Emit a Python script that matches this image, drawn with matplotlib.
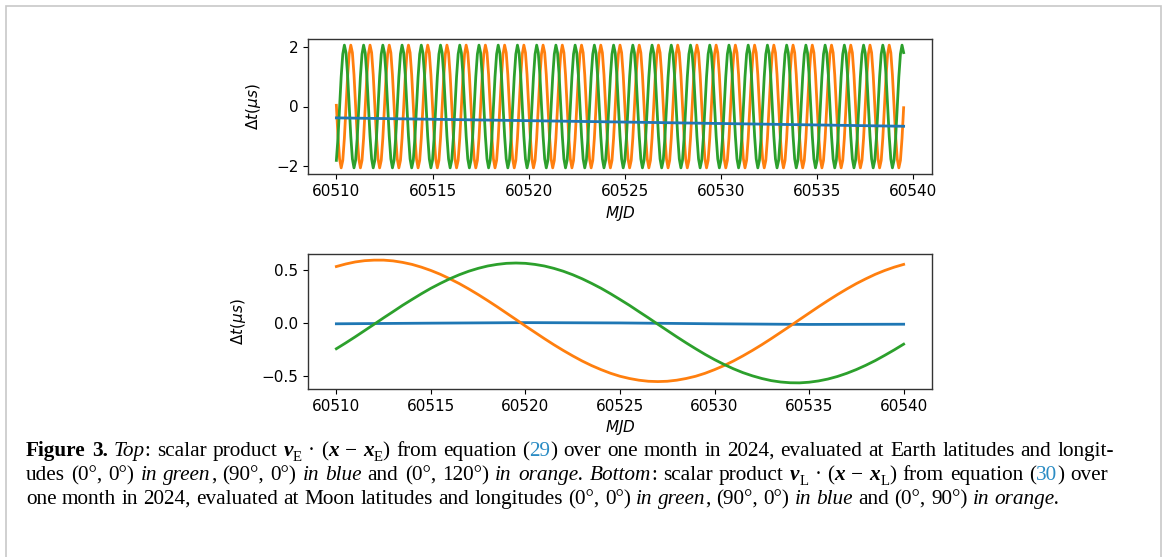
import numpy as np
import matplotlib
matplotlib.use('Agg')
import matplotlib.pyplot as plt

# ---- top panel: Earth stations, the signal repeats every day (samples every 2 h)
top_day_frac = [0, 1/12, 2/12, 3/12, 4/12, 5/12, 6/12, 7/12, 8/12, 9/12, 10/12, 11/12]
green_top_day = [-1.80, -1.06, -0.04, 0.99, 1.75, 2.05, 1.80, 1.06, 0.04, -0.99, -1.75, -2.05]
orange_top_day = [0.04, -0.99, -1.75, -2.05, -1.80, -1.06, -0.04, 0.99, 1.75, 2.05, 1.80, 1.06]
top_first_day = 60510
top_n_days = 30
top_last_mjd = 60539.5
blue_top_mjd = [60510, 60525, 60539.5]
blue_top = [-0.38, -0.52, -0.66]

# ---- bottom panel: Moon stations, one value every half day (60510 ... 60540)
bottom_first_mjd = 60510
bottom_step = 0.5
green_bottom = [-0.242, -0.187, -0.130, -0.071, -0.012, 0.048, 0.106, 0.165, 0.220, 0.274,
                0.325, 0.371, 0.414, 0.452, 0.485, 0.512, 0.534, 0.549, 0.559, 0.562,
                0.559, 0.549, 0.534, 0.512, 0.485, 0.452, 0.414, 0.371, 0.325, 0.274,
                0.220, 0.165, 0.106, 0.048, -0.012, -0.071, -0.130, -0.187, -0.242, -0.295,
                -0.344, -0.389, -0.430, -0.466, -0.496, -0.521, -0.541, -0.554, -0.561, -0.562,
                -0.556, -0.544, -0.526, -0.502, -0.472, -0.437, -0.397, -0.353, -0.304, -0.253,
                -0.199]
orange_bottom = [0.529, 0.553, 0.572, 0.584, 0.589, 0.589, 0.582, 0.568, 0.549, 0.523,
                 0.492, 0.456, 0.414, 0.369, 0.319, 0.266, 0.210, 0.152, 0.092, 0.032,
                 -0.029, -0.088, -0.147, -0.204, -0.258, -0.309, -0.357, -0.400, -0.438, -0.472,
                 -0.500, -0.521, -0.537, -0.547, -0.550, -0.547, -0.537, -0.521, -0.500, -0.472,
                 -0.438, -0.400, -0.357, -0.309, -0.258, -0.204, -0.147, -0.088, -0.029, 0.032,
                 0.092, 0.152, 0.210, 0.266, 0.319, 0.369, 0.414, 0.456, 0.492, 0.523,
                 0.549]
blue_bottom_mjd = [60510, 60515, 60520, 60525, 60530, 60535, 60540]
blue_bottom = [-0.008, -0.002, 0.003, 0.0, -0.008, -0.014, -0.012]

xticks = [60510, 60515, 60520, 60525, 60530, 60535, 60540]

C_BLUE, C_ORANGE, C_GREEN = '#1f77b4', '#ff7f0e', '#2ca02c'

top_mjd = (top_first_day + np.arange(top_n_days)[:, None] + np.array(top_day_frac)).ravel()
keep = top_mjd <= top_last_mjd
green_top = np.tile(green_top_day, top_n_days)[keep]
orange_top = np.tile(orange_top_day, top_n_days)[keep]
top_mjd = top_mjd[keep]

bottom_mjd = bottom_first_mjd + bottom_step * np.arange(len(green_bottom))

W, H = 1165, 557
fig = plt.figure(figsize=(W / 100, H / 100), dpi=100)
plt.rcParams['font.size'] = 11

ax1 = fig.add_axes([308 / W, 1 - 174 / H, 624 / W, 135 / H])
ax1.plot(top_mjd, orange_top, color=C_ORANGE, lw=2)
ax1.plot(top_mjd, green_top, color=C_GREEN, lw=2)
ax1.plot(blue_top_mjd, blue_top, color=C_BLUE, lw=2)
ax1.set_yticks([-2, 0, 2])
ax1.set_xticks(xticks)
ax1.set_ylabel(r'$\Delta t(\mu s)$', fontsize=11, labelpad=9)
ax1.set_xlabel(r'$MJD$', fontsize=11)

ax2 = fig.add_axes([308 / W, 1 - 389 / H, 624 / W, 135 / H])
ax2.plot(blue_bottom_mjd, blue_bottom, color=C_BLUE, lw=2)
ax2.plot(bottom_mjd, orange_bottom, color=C_ORANGE, lw=2)
ax2.plot(bottom_mjd, green_bottom, color=C_GREEN, lw=2)
ax2.set_yticks([-0.5, 0.0, 0.5])
ax2.set_xticks(xticks)
ax2.set_ylabel(r'$\Delta t(\mu s)$', fontsize=11, labelpad=10)
ax2.set_xlabel(r'$MJD$', fontsize=11, labelpad=3)

for ax in (ax1, ax2):
    ax.tick_params(labelsize=11)
    for sp in ax.spines.values():
        sp.set_color('#333333')
        sp.set_linewidth(1.0)

# light grey frame of the figure box (bottom edge is cut off)
fig.add_artist(plt.Rectangle((6 / W, -0.05), 1155 / W, 1.05 - 6 / H, transform=fig.transFigure,
                             fill=False, ec='#c8c8c8', lw=1.2))

# ---- caption, built word by word so bold/italic/colour can be mixed
CAP_FS = 15.3
CAP_LEFT = 26
styles = {
    'r': dict(family='Liberation Serif', fontsize=CAP_FS),
    'i': dict(family='Liberation Serif', fontsize=CAP_FS, style='italic'),
    'b': dict(family='Liberation Serif', fontsize=CAP_FS, weight='bold'),
    'bi': dict(family='Liberation Serif', fontsize=CAP_FS, weight='bold', style='italic'),
    'c': dict(family='Liberation Serif', fontsize=CAP_FS, color='#2b8cc4'),
    'sub': dict(family='Liberation Serif', fontsize=CAP_FS * 0.7),
}
renderer = fig.canvas.get_renderer()
probe = fig.text(0, 0, 'a a', **styles['r'])
w_sp = probe.get_window_extent(renderer).width
probe.set_text('aa')
w_sp -= probe.get_window_extent(renderer).width
probe.remove()
sub_drop = 0.22 * CAP_FS * 100 / 72


def caption_line(y, parts, right=None):
    items = []
    for s, st in parts:
        for k, word in enumerate(s.split(' ')):
            if word == '':
                continue
            t = fig.text(0, 0, word, va='baseline', **styles[st])
            items.append([t, t.get_window_extent(renderer).width, k > 0, st])
    n_gap = sum(1 for it in items if it[2])
    natural = sum(it[1] for it in items) + n_gap * w_sp
    extra = (right - CAP_LEFT - natural) / n_gap if right else 0
    x = CAP_LEFT
    for t, w, gap, st in items:
        if gap:
            x += w_sp + extra
        dy = sub_drop if st == 'sub' else 0
        t.set_position((x / W, 1 - (y + dy) / H))
        x += w


caption_line(456, [
    ('Figure 3.', 'b'), (' Top', 'i'), (': scalar product', 'r'), (' v', 'bi'), ('E', 'sub'),
    (' \u00b7', 'r'), (' (', 'r'), ('x', 'bi'), (' \u2212', 'r'), (' x', 'bi'), ('E', 'sub'),
    (')', 'r'), (' from equation (', 'r'), ('29', 'c'), (')', 'r'),
    (' over one month in 2024, evaluated at Earth latitudes and longit-', 'r')], right=1114)
caption_line(480, [
    ('udes (0\u00b0, 0\u00b0)', 'r'), (' in green', 'i'), (', (90\u00b0, 0\u00b0)', 'r'),
    (' in blue', 'i'), (' and (0\u00b0, 120\u00b0)', 'r'), (' in orange.', 'i'), (' Bottom', 'i'),
    (': scalar product', 'r'), (' v', 'bi'), ('L', 'sub'), (' \u00b7', 'r'), (' (', 'r'),
    ('x', 'bi'), (' \u2212', 'r'), (' x', 'bi'), ('L', 'sub'), (')', 'r'),
    (' from equation (', 'r'), ('30', 'c'), (')', 'r'), (' over', 'r')], right=1108)
caption_line(504, [
    ('one month in 2024, evaluated at Moon latitudes and longitudes (0\u00b0, 0\u00b0)', 'r'),
    (' in green', 'i'), (', (90\u00b0, 0\u00b0)', 'r'), (' in blue', 'i'),
    (' and (0\u00b0, 90\u00b0)', 'r'), (' in orange.', 'i')])

fig.savefig('out.png', dpi=100)
